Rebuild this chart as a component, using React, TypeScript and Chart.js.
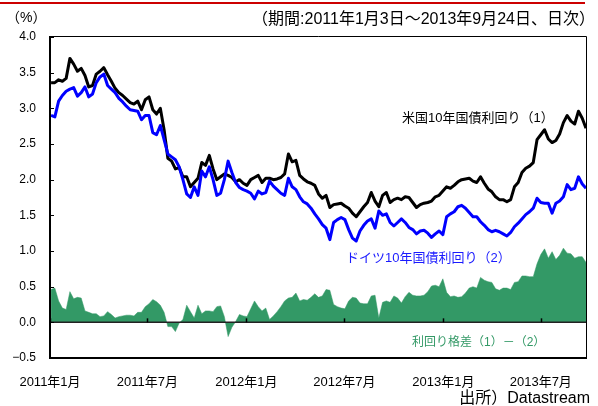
import { useEffect, useRef } from "react";
import { Chart, registerables } from "chart.js";

Chart.register(...registerables);

// Weekly samples starting 2011-01-03 (day 2 counted from 2011-01-01)
const startDay = 2;
const stepDays = 7;

const usYield = [
  3.36, 3.36, 3.40, 3.38, 3.42, 3.70, 3.62, 3.52, 3.56, 3.46,
  3.30, 3.32, 3.48, 3.52, 3.57, 3.47, 3.38, 3.28, 3.22, 3.18,
  3.13, 3.08, 3.06, 3.10, 2.98, 3.12, 3.16, 2.98, 2.92, 3.00,
  2.70, 2.30, 2.26, 2.15, 2.17, 2.04, 2.04, 1.90, 1.96, 2.02,
  2.24, 2.20, 2.34, 2.15, 2.00, 2.04, 2.08, 2.06, 2.03, 1.97,
  2.00, 1.95, 1.92, 2.00, 2.03, 2.06, 1.96, 2.02, 2.02, 2.00,
  2.01, 2.03, 2.08, 2.36, 2.25, 2.27, 2.06, 2.01, 1.97, 1.95,
  1.92, 1.80, 1.74, 1.78, 1.61, 1.65, 1.66, 1.67, 1.63, 1.60,
  1.53, 1.48, 1.55, 1.62, 1.68, 1.82, 1.70, 1.62, 1.78, 1.82,
  1.68, 1.72, 1.74, 1.72, 1.76, 1.75, 1.68, 1.61, 1.65, 1.67,
  1.68, 1.70, 1.76, 1.78, 1.84, 1.90, 1.88, 1.92, 1.97, 2.00,
  2.01, 2.02, 1.98, 1.96, 2.04, 1.95, 1.87, 1.83, 1.76, 1.72,
  1.72, 1.69, 1.72, 1.90, 1.96, 2.10, 2.16, 2.19, 2.24, 2.56,
  2.63, 2.70, 2.57, 2.52, 2.55, 2.64, 2.80, 2.90, 2.82, 2.78,
  2.96, 2.86, 2.72,
];

const deYield = [
  2.90, 2.88, 3.10, 3.18, 3.24, 3.27, 3.29, 3.17, 3.22, 3.30,
  3.16, 3.20, 3.36, 3.44, 3.48, 3.32, 3.27, 3.22, 3.14, 3.09,
  3.03, 2.98, 2.97, 2.96, 2.84, 2.90, 2.90, 2.66, 2.63, 2.76,
  2.56, 2.36, 2.32, 2.28, 2.18, 2.00, 1.80, 1.75, 1.90, 1.78,
  2.12, 2.04, 2.18, 2.00, 1.78, 1.81, 2.00, 2.26, 2.10, 1.96,
  1.89, 1.86, 1.84, 1.81, 1.73, 1.84, 1.80, 1.82, 1.98, 1.91,
  1.86, 1.81, 1.78, 2.02, 1.90, 1.86, 1.76, 1.69, 1.66, 1.60,
  1.52, 1.45, 1.37, 1.32, 1.16, 1.40, 1.44, 1.47, 1.44, 1.30,
  1.18, 1.14, 1.28, 1.36, 1.42, 1.45, 1.32, 1.56, 1.50, 1.52,
  1.40, 1.35, 1.40, 1.45, 1.40, 1.33, 1.30, 1.24, 1.28, 1.29,
  1.25, 1.19, 1.24, 1.28, 1.23, 1.48, 1.52, 1.55, 1.62, 1.64,
  1.60, 1.54, 1.48, 1.48, 1.41, 1.36, 1.30, 1.27, 1.29, 1.27,
  1.24, 1.21, 1.26, 1.34, 1.39, 1.45, 1.51, 1.55, 1.60, 1.74,
  1.68, 1.67, 1.67, 1.53, 1.67, 1.70, 1.76, 1.93, 1.86, 1.88,
  2.04, 1.94, 1.88,
];

// x-axis ticks: days since 2011-01-01
const tickDays = [0, 181, 365, 547, 731, 912];
const tickLabels = ["2011年1月", "2011年7月", "2012年1月", "2012年7月", "2013年1月", "2013年7月"];
const yTickValues = [-0.5, 0, 0.5, 1.0, 1.5, 2.0, 2.5, 3.0, 3.5, 4.0];

const periodText = "（期間:2011年1月3日～2013年9月24日、日次）";
const unitText = "（%）";
const usLabel = "米国10年国債利回り（1）";
const deLabel = "ドイツ10年国債利回り（2）";
const spreadLabel = "利回り格差（1）－（2）";
const sourceText = "出所）Datastream";

const FONT = "'Liberation Sans', 'Noto Sans CJK JP', sans-serif";

export default function App() {
  const ref = useRef<HTMLCanvasElement | null>(null);

  useEffect(() => {
    if (!ref.current) return;
    const usPts = usYield.map((v, i) => ({ x: startDay + i * stepDays, y: v }));
    const dePts = deYield.map((v, i) => ({ x: startDay + i * stepDays, y: v }));
    const spPts = usYield.map((v, i) => ({
      x: startDay + i * stepDays,
      y: Math.round((v - deYield[i]) * 100) / 100,
    }));
    const lastDay = startDay + (usYield.length - 1) * stepDays;

    const deco = {
      id: "deco",
      afterDatasetsDraw(chart: any) {
        const { ctx, chartArea: a, scales } = chart;
        const x = scales.x;
        const y = scales.y;
        ctx.save();
        const y0 = y.getPixelForValue(0);
        ctx.strokeStyle = "#222";
        ctx.lineWidth = 1.5;
        ctx.beginPath();
        ctx.moveTo(a.left, y0);
        ctx.lineTo(a.right, y0);
        ctx.stroke();
        ctx.lineWidth = 1.5;
        ctx.strokeStyle = "#000";
        for (const d of tickDays) {
          const px = Math.round(x.getPixelForValue(d)) + 0.5;
          ctx.beginPath();
          ctx.moveTo(px, y0);
          ctx.lineTo(px, y0 - 4);
          ctx.stroke();
        }
        ctx.lineWidth = 1;
        ctx.strokeStyle = "#000";
        ctx.beginPath();
        ctx.moveTo(a.left, a.top - 0.5);
        ctx.lineTo(a.right + 0.5, a.top - 0.5);
        ctx.lineTo(a.right + 0.5, a.bottom);
        ctx.stroke();
        ctx.lineWidth = 2;
        ctx.beginPath();
        ctx.moveTo(a.left, a.top - 1);
        ctx.lineTo(a.left, a.bottom);
        ctx.lineTo(a.right + 1, a.bottom);
        ctx.stroke();
        ctx.lineWidth = 1;
        for (const v of yTickValues) {
          const py = Math.round(y.getPixelForValue(v)) + 0.5;
          ctx.beginPath();
          ctx.moveTo(a.left, py);
          ctx.lineTo(a.left + 4, py);
          ctx.stroke();
        }
        ctx.restore();
      },
      afterDraw(chart: any) {
        const { ctx } = chart;
        ctx.save();
        ctx.fillStyle = "#cc0000";
        ctx.fillRect(0, 2, 585, 2);
        ctx.textBaseline = "middle";
        ctx.fillStyle = "#000";
        ctx.font = `14px ${FONT}`;
        ctx.textAlign = "left";
        ctx.fillText(unitText, 6, 18);
        ctx.font = `16px ${FONT}`;
        ctx.textAlign = "right";
        ctx.fillText(periodText, 595, 20);
        ctx.textAlign = "left";
        ctx.font = `13px ${FONT}`;
        ctx.fillStyle = "#000";
        ctx.fillText(usLabel, 402, 118);
        ctx.fillStyle = "#1a1aff";
        ctx.fillText(deLabel, 346, 258);
        ctx.fillStyle = "#339966";
        ctx.font = `12px ${FONT}`;
        ctx.fillText(spreadLabel, 412, 343);
        ctx.fillStyle = "#000";
        ctx.font = `16px ${FONT}`;
        ctx.textAlign = "right";
        ctx.fillText(sourceText, 590, 399);
        ctx.restore();
      },
    };

    const chart = new Chart(ref.current, {
      type: "line",
      data: {
        datasets: [
          {
            label: "ドイツ10年国債利回り（2）",
            data: dePts,
            borderColor: "#0000ff",
            borderWidth: 3,
            pointRadius: 0,
            fill: false,
            tension: 0,
            borderJoinStyle: "round",
          },
          {
            label: "米国10年国債利回り（1）",
            data: usPts,
            borderColor: "#000000",
            borderWidth: 3,
            pointRadius: 0,
            fill: false,
            tension: 0,
            borderJoinStyle: "round",
          },
          {
            label: "利回り格差（1）－（2）",
            data: spPts,
            borderColor: "#339966",
            backgroundColor: "#339966",
            borderWidth: 0.5,
            pointRadius: 0,
            fill: "origin",
            tension: 0,
          },
        ],
      },
      options: {
        animation: false,
        responsive: false,
        devicePixelRatio: 1,
        layout: { padding: { left: 0, right: 12, top: 37, bottom: 0 } },
        plugins: {
          legend: { display: false },
          tooltip: { enabled: false },
        },
        scales: {
          x: {
            type: "linear",
            min: 0,
            max: lastDay,
            grid: { display: false, drawTicks: false },
            border: { display: false },
            afterBuildTicks: (s: any) => {
              s.ticks = tickDays.map((d) => ({ value: d }));
            },
            afterFit: (s: any) => {
              s.height = 48;
            },
            ticks: {
              autoSkip: false,
              maxRotation: 0,
              padding: 17,
              color: "#000",
              font: { size: 13, family: FONT },
              callback: (v: any) => {
                const i = tickDays.indexOf(Number(v));
                return i >= 0 ? tickLabels[i] : "";
              },
            },
          },
          y: {
            min: -0.5,
            max: 4.0,
            grid: { display: false, drawTicks: false },
            border: { display: false },
            afterBuildTicks: (s: any) => {
              s.ticks = yTickValues.map((v) => ({ value: v }));
            },
            afterFit: (s: any) => {
              s.width = 50;
            },
            ticks: {
              padding: 14,
              color: "#000",
              font: { size: 12, family: FONT },
              callback: (v: any) => {
                const n = Number(v);
                return n < 0 ? "−" + Math.abs(n).toFixed(1) : n.toFixed(1);
              },
            },
          },
        },
      },
      plugins: [deco],
    });
    return () => chart.destroy();
  }, []);

  return (
    <div style={{ position: "absolute", left: 0, top: 0, width: 598, height: 406, background: "#fff" }}>
      <canvas ref={ref} width={598} height={406} style={{ display: "block" }} />
    </div>
  );
}
